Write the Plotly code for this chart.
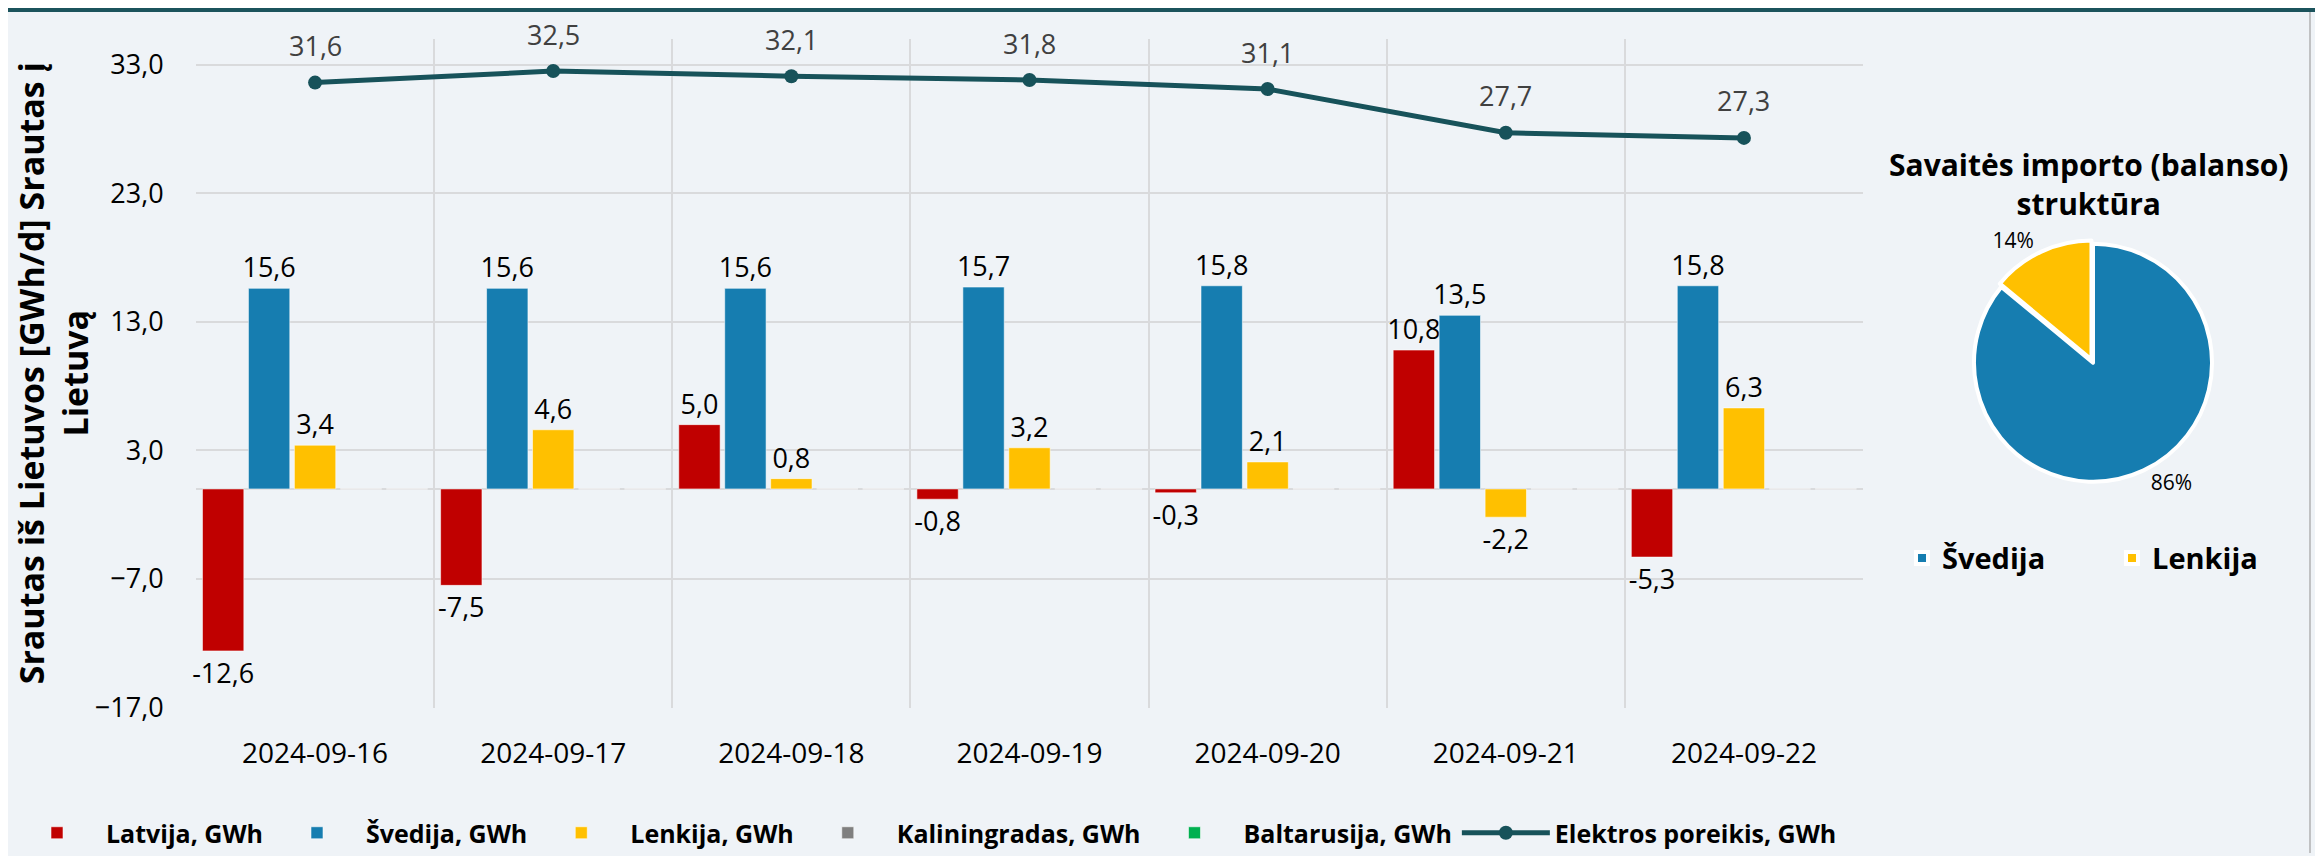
import plotly.graph_objects as go

# ── Data ──────────────────────────────────────────────────────
dates = ["2024-09-16", "2024-09-17", "2024-09-18", "2024-09-19",
         "2024-09-20", "2024-09-21", "2024-09-22"]
latvija = [-12.6, -7.5, 5.0, -0.8, -0.3, 10.8, -5.3]
svedija = [15.6, 15.6, 15.6, 15.7, 15.8, 13.5, 15.8]
lenkija = [3.4, 4.6, 0.8, 3.2, 2.1, -2.2, 6.3]
kaliningradas = [0, 0, 0, 0, 0, 0, 0]
baltarusija = [0, 0, 0, 0, 0, 0, 0]
poreikis = [31.6, 32.5, 32.1, 31.8, 31.1, 27.7, 27.3]

pie_labels = ["Švedija", "Lenkija"]
pie_values = [86, 14]

# ── Style ─────────────────────────────────────────────────────
W, H = 2315, 848          # page body adds an 8 px margin
BG = "#eff3f7"
GRID = "#d9dadc"
FONT = "Open Sans, sans-serif"
C = {
    "lv": "#c00000",
    "se": "#167db0",
    "pl": "#ffc000",
    "kal": "#7f7f7f",
    "by": "#00b050",
    "line": "#17525a",
}


def px_x(x):   # screen pixel -> paper x
    return (x - 8) / W


def px_y(y):   # screen pixel -> paper y
    return (856 - y) / H


fig = go.Figure()

bar_cfg = [
    ("Latvija, GWh", latvija, C["lv"], True),
    ("Švedija, GWh", svedija, C["se"], True),
    ("Lenkija, GWh", lenkija, C["pl"], True),
    ("Kaliningradas, GWh", kaliningradas, C["kal"], False),
    ("Baltarusija, GWh", baltarusija, C["by"], False),
]
for name, vals, color, labelled in bar_cfg:
    fig.add_trace(go.Bar(
        x=dates, y=vals, name=name,
        marker=dict(color=color, line=dict(color="rgba(255,255,255,0.55)", width=1)),
        texttemplate="%{y:.1f}" if labelled else None,
        textposition="outside" if labelled else "none",
        constraintext="none",
        cliponaxis=False,
        textfont=dict(family=FONT, size=27, color="#000000"),
        legend="legend",
    ))

fig.add_trace(go.Scatter(
    x=dates, y=poreikis, name="Elektros poreikis, GWh",
    mode="lines+markers",
    line=dict(color=C["line"], width=5),
    marker=dict(color=C["line"], size=14),
    legend="legend",
))

# line value labels, lifted above the markers
for d, v in zip(dates, poreikis):
    fig.add_annotation(
        x=d, y=v, text=f"{v:.1f}".replace(".", ","),
        showarrow=False, yshift=37,
        font=dict(family=FONT, size=27, color="#404040"),
    )

# ── Pie ───────────────────────────────────────────────────────
fig.add_trace(go.Pie(
    labels=pie_labels, values=pie_values,
    marker=dict(colors=[C["se"], C["pl"]], line=dict(color="#ffffff", width=4)),
    sort=False, direction="clockwise", rotation=0,
    pull=[0, 0.03],
    textposition="outside",
    texttemplate="%{percent:.0%}",
    textfont=dict(family=FONT, size=21, color="#000000"),
    domain=dict(x=[px_x(1970), px_x(2216)], y=[px_y(487), px_y(241)]),
    legend="legend2",
))

fig.add_annotation(
    xref="paper", yref="paper", x=px_x(2089), y=px_y(185),
    xanchor="center", yanchor="middle", showarrow=False,
    text="<b>Savaitės importo (balanso)<br>struktūra</b>",
    font=dict(family=FONT, size=30, color="#000000"),
)

# ── Layout ────────────────────────────────────────────────────
fig.update_layout(
    width=W, height=H,
    paper_bgcolor=BG, plot_bgcolor=BG,
    margin=dict(l=0, r=0, t=0, b=0),
    separators=", ",
    barmode="group", bargap=0.035, bargroupgap=0.1,
    font=dict(family=FONT, size=27, color="#000000"),
    xaxis=dict(
        domain=[px_x(196), px_x(1863)],
        type="category", tickson="boundaries",
        showgrid=True, gridcolor=GRID, gridwidth=2,
        ticks="", ticklabelstandoff=26,
        tickfont=dict(family=FONT, size=28, color="#000000"),
        showline=False, automargin=False,
        range=[-0.5, 6.5],
    ),
    yaxis=dict(
        domain=[px_y(710), px_y(39)],
        range=[-17, 35], tick0=-17, dtick=10, tickformat=".1f",
        showgrid=True, gridcolor=GRID, gridwidth=2,
        zeroline=True, zerolinecolor=GRID, zerolinewidth=2,
        ticks="outside", ticklen=26, tickcolor="rgba(0,0,0,0)",
        tickfont=dict(family=FONT, size=27, color="#000000"),
        automargin=False,
        title=dict(
            text="<b>Srautas iš Lietuvos [GWh/d] Srautas į<br>Lietuvą</b>",
            font=dict(family=FONT, size=34, color="#000000"),
            standoff=0,
        ),
    ),
    legend=dict(
        orientation="h", x=0, y=px_y(836),
        xanchor="left", yanchor="middle",
        itemwidth=88, bgcolor="rgba(0,0,0,0)",
        font=dict(family=FONT, size=25, color="#000000", weight="bold"),
        traceorder="normal",
    ),
    legend2=dict(
        orientation="h", x=px_x(1902), y=px_y(560),
        xanchor="left", yanchor="middle",
        entrywidth=165, entrywidthmode="pixels",
        bgcolor="rgba(0,0,0,0)",
        font=dict(family=FONT, size=29, color="#000000", weight="bold"),
    ),
    shapes=[
        dict(type="rect", xref="paper", yref="paper",
             x0=0, x1=1, y0=1 - 4 / H, y1=1,
             fillcolor="#1b535c", line=dict(width=0), layer="above"),
        dict(type="line", xref="paper", yref="paper",
             x0=px_x(2310), x1=px_x(2310), y0=0, y1=1 - 4 / H,
             line=dict(color="#c0c1c3", width=2)),
    ],
    showlegend=True,
)

fig.write_html("out.html")
